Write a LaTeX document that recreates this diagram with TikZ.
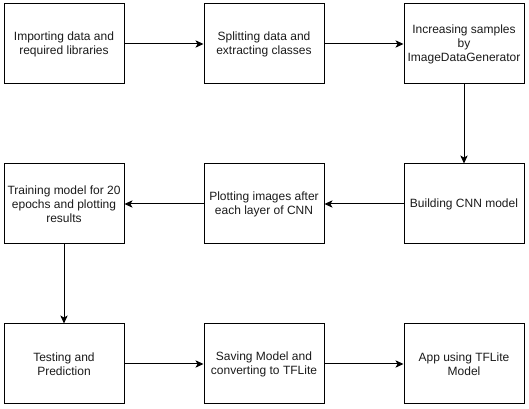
\documentclass[tikz,border=0pt]{standalone}
\usepackage{fontspec}
\setmainfont{Liberation Sans}
\usetikzlibrary{arrows.meta}
\definecolor{txt}{HTML}{1A1A1A}
\tikzset{
  box/.style={draw=black, line width=0.75pt, minimum width=90pt, minimum height=60pt,
    inner sep=1pt, align=center, font=\fontsize{9pt}{10.5pt}\selectfont, text=txt},
  conn/.style={line width=0.75pt, -{Stealth[length=6pt,width=5.5pt,inset=1.5pt]}}
}
\begin{document}
\begin{tikzpicture}[x=0.75pt,y=-0.75pt]
\useasboundingbox (0,0) rectangle (529,409);
\node[box] (n1) at (64,44) {Importing data and\\required libraries};
\node[box] (n2) at (264,44) {Splitting data and\\extracting classes};
\node[box] (n3) at (464,44) {Increasing samples\\by\\ImageDataGenerator};
\node[box] (n4) at (464,204) {Building CNN model};
\node[box] (n5) at (264,204) {Plotting images after\\each layer of CNN};
\node[box] (n6) at (64,204) {Training model for 20\\epochs and plotting\\results};
\node[box] (n7) at (64,364) {Testing and\\Prediction};
\node[box] (n8) at (264,364) {Saving Model and\\converting to TFLite};
\node[box] (n9) at (464,364) {App using TFLite\\Model};
\draw[conn] (n1) -- (n2);
\draw[conn] (n2) -- (n3);
\draw[conn] (n3) -- (n4);
\draw[conn] (n4) -- (n5);
\draw[conn] (n5) -- (n6);
\draw[conn] (n6) -- (n7);
\draw[conn] (n7) -- (n8);
\draw[conn] (n8) -- (n9);
\end{tikzpicture}
\end{document}
